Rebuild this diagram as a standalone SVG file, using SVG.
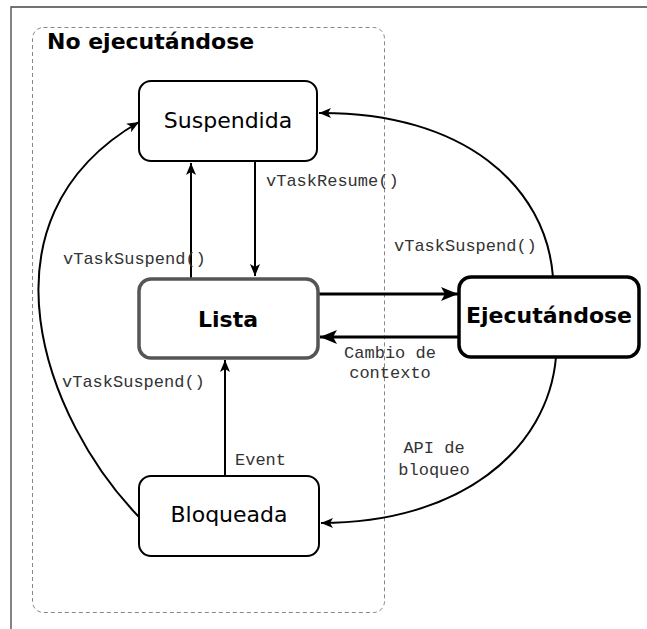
<svg xmlns="http://www.w3.org/2000/svg" width="647" height="629" viewBox="0 0 647 629">
<style>
.node{fill:#fff;stroke:#000;stroke-width:2}
.lbl{font-family:"DejaVu Sans",sans-serif;font-size:22px;fill:#000;text-anchor:middle}
.b{font-weight:bold}
.mono{font-family:"Liberation Mono","Courier New",monospace;font-size:17px;fill:#333}
.c{fill:none;stroke:#000;stroke-width:2}
.ct{fill:none;stroke:#000;stroke-width:3}
</style>
<defs>
<marker id="a" markerUnits="userSpaceOnUse" markerWidth="16" markerHeight="16" viewBox="0 0 16 16" refX="13" refY="8" orient="auto">
<path d="M1,3 L13,8 L1,13 L4,8 Z" fill="#000"/>
</marker>
<marker id="at" markerUnits="userSpaceOnUse" markerWidth="20" markerHeight="20" viewBox="0 0 20 20" refX="18" refY="10" orient="auto">
<path d="M1,3 L18,10 L1,17 L5,10 Z" fill="#000"/>
</marker>
</defs>
<rect x="0" y="0" width="647" height="629" fill="#fff"/>
<path d="M11,629 V7 H647" fill="none" stroke="#444" stroke-width="1.3"/>
<g id="container">
<rect x="32.5" y="27.5" width="352" height="585" rx="11" fill="none" stroke="#888" stroke-width="1" stroke-dasharray="4,3"/>
<text x="47" y="49" font-family="DejaVu Sans,sans-serif" font-size="22" font-weight="bold" fill="#000">No ejecutándose</text>
</g>
<g id="edges">
<path class="c" d="M191,279 V163" marker-end="url(#a)"/>
<path class="c" d="M255,161 V276" marker-end="url(#a)"/>
<path class="ct" d="M319,294 H458" marker-end="url(#at)"/>
<path class="ct" d="M459,337 H320" marker-end="url(#at)"/>
<path class="c" d="M225,476 V360" marker-end="url(#a)"/>
<path class="c" d="M553,277 C546,186 464,112 319,113" marker-end="url(#a)"/>
<path class="c" d="M556,357 C548,450 460,523 321,523" marker-end="url(#a)"/>
<path class="c" d="M139,517 C45,420 -30,220 139,122" marker-end="url(#a)"/>
<text class="mono" x="266" y="186">vTaskResume()</text>
<text class="mono" x="63" y="264">vTaskSuspend()</text>
<text class="mono" x="394" y="251">vTaskSuspend()</text>
<text class="mono" x="390" y="358" text-anchor="middle">Cambio de</text>
<text class="mono" x="390" y="378" text-anchor="middle">contexto</text>
<text class="mono" x="62" y="387">vTaskSuspend()</text>
<text class="mono" x="235" y="465">Event</text>
<text class="mono" x="434" y="453" text-anchor="middle">API de</text>
<text class="mono" x="434" y="475" text-anchor="middle">bloqueo</text>
</g>
<g id="suspendida">
<rect class="node" x="139" y="81" width="178" height="80" rx="12"/>
<text class="lbl" x="228" y="128">Suspendida</text>
</g>
<g id="lista">
<rect class="node" x="139" y="279" width="179" height="79" rx="12" style="stroke:#555;stroke-width:3.5"/>
<text class="lbl b" x="228" y="327">Lista</text>
</g>
<g id="ejecutandose">
<rect class="node" x="459" y="277" width="180" height="80" rx="12" style="stroke-width:3.5"/>
<text class="lbl b" x="549" y="323">Ejecutándose</text>
</g>
<g id="bloqueada">
<rect class="node" x="139" y="476" width="180" height="80" rx="12"/>
<text class="lbl" x="229" y="522">Bloqueada</text>
</g>
</svg>
